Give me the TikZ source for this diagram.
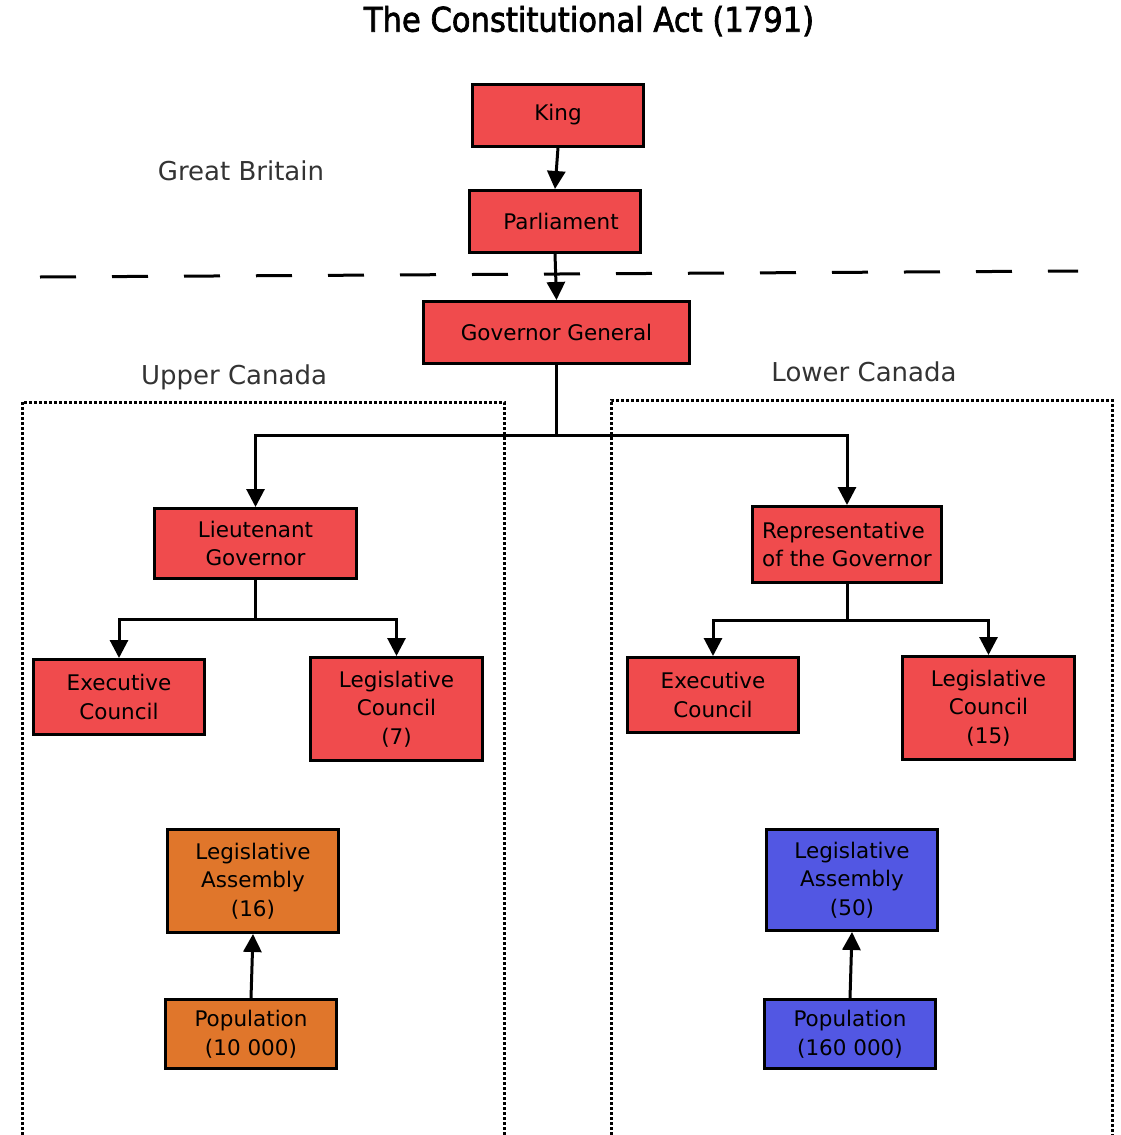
\documentclass[tikz,border=0pt]{standalone}
\usepackage{fontspec}
\setmainfont{DejaVu Sans}
\newfontfamily\titlefont[FakeStretch=0.9, FakeBold=2]{DejaVu Sans}
\usepackage{tikz}
\usetikzlibrary{arrows.meta}
\definecolor{crown}{HTML}{F04B4D}
\definecolor{upper}{HTML}{E0762B}
\definecolor{lower}{HTML}{5257E3}
\tikzset{
  box/.style={draw=black, line width=3pt, fill=crown, inner sep=0pt, align=center,
    font=\fontsize{21.5}{28.5}\selectfont},
  link/.style={line width=3pt, -{Triangle[length=18pt,width=18pt]}},
  region/.style={text=black!80, font=\fontsize{26}{30}\selectfont},
}

\begin{document}
\begin{tikzpicture}[x=1pt, y=-1pt]
\useasboundingbox (0,0) rectangle (1120,1135);
\node (title) at (589,21) {\titlefont\fontsize{34}{38}\selectfont The Constitutional Act (1791)};
\node[region] (gb) at (241,171) {Great Britain};
\node[region] (uc) at (234,377) {Upper Canada};
\node[region] (lc) at (864,372) {Lower Canada};
\draw[line width=3pt, dash pattern=on 36pt off 36pt] (40,277) -- (1078,271);
\draw[line width=3pt, dash pattern=on 3pt off 2pt] (22,1135) -- (22,402) -- (504,402) -- (504,1135);
\draw[line width=3pt, dash pattern=on 3pt off 2pt] (611,1135) -- (611,400) -- (1112,400) -- (1112,1135);
\node[box, minimum width=171, minimum height=62] (king) at (558,115) {King};
\node[box, minimum width=171, minimum height=62] (parl) at (555,221.5) {\hspace{12pt}Parliament};
\node[box, minimum width=266, minimum height=62] (gg) at (556.5,332.5) {Governor General};
\node[box, minimum width=202, minimum height=70] (lg) at (255.5,543.5) {Lieutenant\\Governor};
\node[box, minimum width=189, minimum height=76, align=left] (rg) at (847,544.5) {Representative\\of the Governor};
\node[box, minimum width=171, minimum height=75] (lec) at (119,697) {Executive\\Council};
\node[box, minimum width=172, minimum height=103] (llc) at (396.5,709) {Legislative\\Council\\(7)};
\node[box, minimum width=171, minimum height=75] (rec) at (713,695) {Executive\\Council};
\node[box, minimum width=172, minimum height=103] (rlc) at (988.5,708) {Legislative\\Council\\(15)};
\node[box, fill=upper, minimum width=171, minimum height=103] (lla) at (253,881) {Legislative\\Assembly\\(16)};
\node[box, fill=upper, minimum width=171, minimum height=69] (lpop) at (251,1034) {Population\\(10 000)};
\node[box, fill=lower, minimum width=171, minimum height=101] (rla) at (852,880) {Legislative\\Assembly\\(50)};
\node[box, fill=lower, minimum width=171, minimum height=69] (rpop) at (850,1034) {Population\\(160 000)};
\draw[link] (king.south) -- (parl.north);
\draw[link] (parl.south) -- (gg.north);
\draw[link] (gg.south) -- ++(0,70) -| (lg.north);
\draw[link] (gg.south) -- ++(0,70) -| (rg.north);
\draw[link] (lg.south) -- ++(0,39) -| (lec.north);
\draw[link] (lg.south) -- ++(0,39) -| (llc.north);
\draw[link] (rg.south) -- ++(0,36) -| (rec.north);
\draw[link] (rg.south) -- ++(0,36) -| (rlc.north);
\draw[link] (lpop.north) -- (lla.south);
\draw[link] (rpop.north) -- (rla.south);
\end{tikzpicture}
\end{document}
